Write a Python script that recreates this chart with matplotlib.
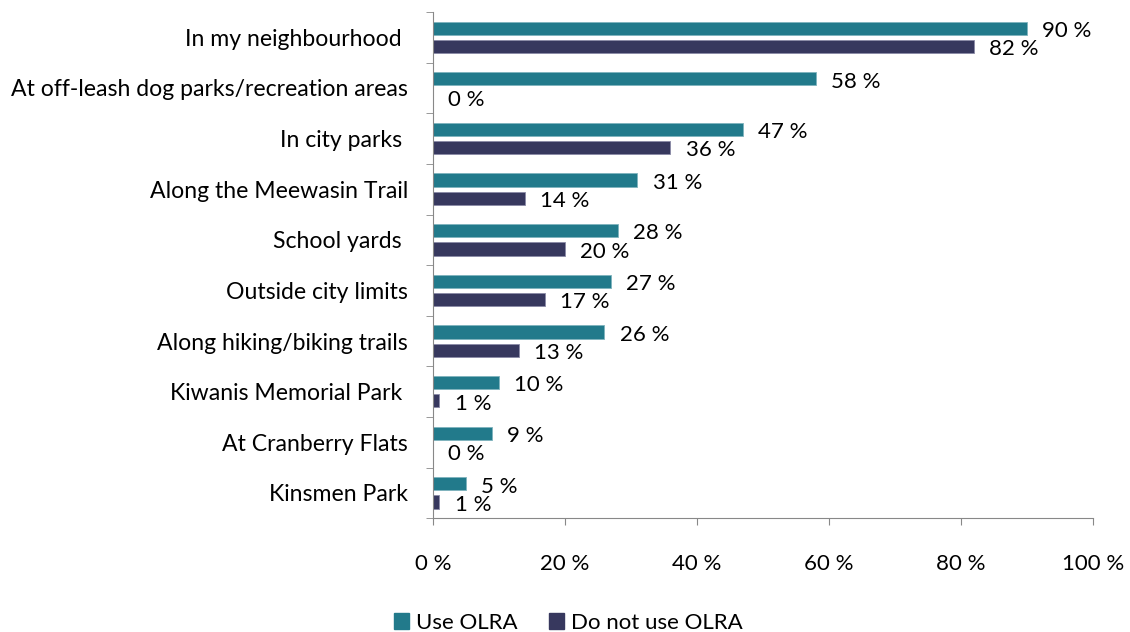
import numpy as np
import matplotlib
matplotlib.use("Agg")
import matplotlib.pyplot as plt
from matplotlib.patches import Patch

## --- data
categories = ["In my neighbourhood ", "At off-leash dog parks/recreation areas",
              "In city parks ", "Along the Meewasin Trail", "School yards ",
              "Outside city limits", "Along hiking/biking trails",
              "Kiwanis Memorial Park ", "At Cranberry Flats", "Kinsmen Park"]
use_olra = [90, 58, 47, 31, 28, 27, 26, 10, 9, 5]
not_use_olra = [82, 0, 36, 14, 20, 17, 13, 1, 0, 1]
xticks = [0, 20, 40, 60, 80, 100]

teal = "#227A8B"
navy = "#37385E"
grey = "#888888"
fs = 16

plt.rcParams['font.family'] = ['Lato', 'DejaVu Sans']

fig = plt.figure(figsize=(11.3, 6.32), dpi=100)
ax = fig.add_axes([0.383, 0.180, 0.584, 0.801])

pos = np.arange(len(categories))
h = 0.26
off = 0.18
ax.barh(pos - off, use_olra, height=h, color=teal, edgecolor="#7fb3bd", linewidth=0.6)
ax.barh(pos + off, not_use_olra, height=h, color=navy, edgecolor="#8a8aa6", linewidth=0.6)

# value labels, nudged up/down like the original
for i in range(len(categories)):
    ax.annotate("%d %%" % use_olra[i], (use_olra[i], pos[i] - off),
                xytext=(11, -2), textcoords="offset points",
                va="center", ha="left", fontsize=fs)
    ax.annotate("%d %%" % not_use_olra[i], (not_use_olra[i], pos[i] + off),
                xytext=(11, -2), textcoords="offset points",
                va="center", ha="left", fontsize=fs)

ax.set_xlim(0, 100)
ax.set_ylim(len(categories) - 0.5, -0.5)
ax.set_xticks(xticks)
ax.set_xticklabels(["%d %%" % t for t in xticks], fontsize=fs)
ax.tick_params(axis="x", length=5, color=grey, pad=21)

ax.set_yticks(pos)
ax.set_yticklabels(categories, fontsize=16.6)
ax.set_yticks(np.arange(len(categories) + 1) - 0.5, minor=True)
ax.tick_params(axis="y", which="major", length=0, pad=18)
ax.tick_params(axis="y", which="minor", length=5, color=grey)

for s in ["top", "right"]:
    ax.spines[s].set_visible(False)
ax.spines["left"].set_color(grey)
ax.spines["bottom"].set_color(grey)

handles = [Patch(color=teal, label="Use OLRA"), Patch(color=navy, label="Do not use OLRA")]
fig.legend(handles=handles, loc="center", bbox_to_anchor=(0.503, 0.015), ncol=2,
           frameon=False, fontsize=fs, handlelength=0.7, handleheight=0.7,
           handletextpad=0.3, columnspacing=1.4)

fig.savefig("out.png", dpi=100)
